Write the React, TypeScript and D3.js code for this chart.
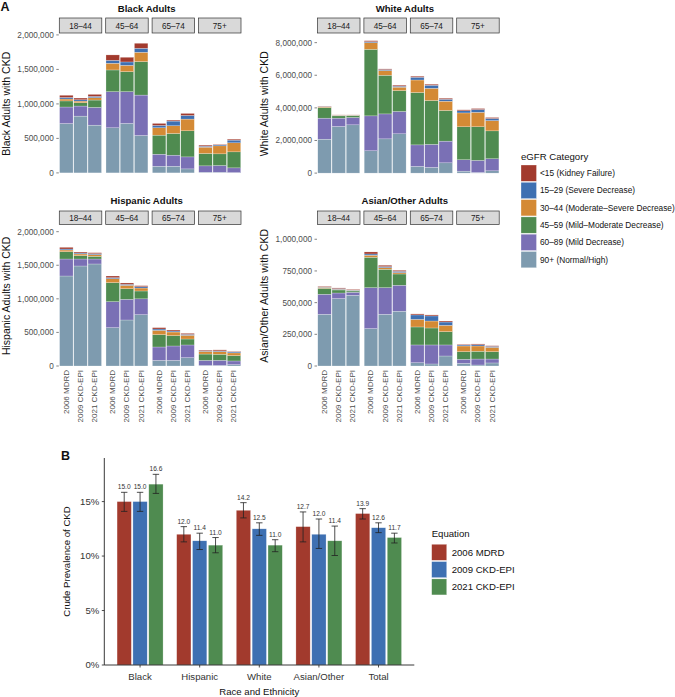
import React from "react";
import * as d3 from "d3";

const FONT = "'Liberation Sans', Arial, Helvetica, sans-serif";

const ageGroups = ["18–44", "45–64", "65–74", "75+"];
const equations = ["2006 MDRD", "2009 CKD-EPI", "2021 CKD-EPI"];
// stacking order bottom -> top
const egfrCategories = [
  "90+ (Normal/High)",
  "60–89 (Mild Decrease)",
  "45–59 (Mild–Moderate Decrease)",
  "30–44 (Moderate–Severe Decrease)",
  "15–29 (Severe Decrease)",
  "<15 (Kidney Failure)",
];
const egfrColors = ["#7E9BAF", "#7A70B5", "#4F8B50", "#D48A35", "#3E70B2", "#A23A2D"];

// thousands of adults; rows = age group × equation, columns = egfrCategories
const blackAdults = [
  [715, 240, 88, 28, 22, 32],
  [823, 146, 48, 24, 19, 25],
  [692, 257, 107, 34, 19, 29],
  [654, 523, 315, 97, 43, 78],
  [717, 460, 290, 92, 49, 68],
  [542, 586, 485, 135, 58, 73],
  [97, 174, 276, 107, 34, 29],
  [97, 160, 314, 112, 68, 14],
  [58, 174, 378, 170, 53, 29],
  [10, 92, 179, 92, 14, 15],
  [10, 97, 169, 116, 15, 9],
  [5, 68, 232, 131, 39, 14],
];
const whiteAdults = [
  [2080, 1290, 650, 40, 20, 20],
  [2860, 510, 140, 40, 10, 10],
  [2960, 450, 120, 25, 8, 7],
  [1370, 2140, 4080, 410, 60, 60],
  [2100, 1530, 2370, 290, 60, 40],
  [2410, 1370, 1280, 210, 60, 60],
  [410, 1320, 3210, 770, 170, 60],
  [350, 1410, 2690, 750, 190, 60],
  [630, 1330, 1880, 570, 120, 60],
  [120, 700, 2020, 850, 130, 60],
  [40, 740, 2060, 890, 170, 60],
  [140, 740, 1710, 630, 130, 60],
];
const hispanicAdults = [
  [1340, 253, 109, 25, 15, 25],
  [1489, 104, 50, 25, 14, 15],
  [1519, 74, 40, 25, 14, 15],
  [571, 387, 283, 59, 15, 25],
  [685, 308, 158, 50, 15, 20],
  [764, 236, 117, 44, 20, 15],
  [84, 199, 184, 64, 20, 20],
  [84, 214, 154, 54, 15, 15],
  [124, 189, 89, 55, 14, 15],
  [10, 74, 94, 40, 10, 10],
  [10, 75, 90, 40, 10, 15],
  [20, 55, 80, 40, 15, 8],
];
const asianOtherAdults = [
  [408, 158, 47, 8, 3, 5],
  [532, 44, 24, 5, 6, 5],
  [558, 24, 10, 5, 3, 5],
  [295, 323, 240, 16, 10, 16],
  [408, 210, 145, 13, 8, 11],
  [432, 205, 89, 11, 10, 8],
  [26, 140, 142, 60, 35, 8],
  [16, 150, 134, 55, 40, 8],
  [79, 87, 105, 50, 26, 8],
  [21, 32, 60, 45, 8, 5],
  [8, 47, 61, 42, 10, 6],
  [24, 31, 58, 34, 8, 5],
];

// Panel B
const raceGroups = ["Black", "Hispanic", "White", "Asian/Other", "Total"];
const eqColors = ["#A23A2D", "#3E70B2", "#4F8B50"];
const prevMDRD = [15.0, 12.0, 14.2, 12.7, 13.9];
const prevEPI2009 = [15.0, 11.4, 12.5, 12.0, 12.6];
const prevEPI2021 = [16.6, 11.0, 11.0, 11.4, 11.7];
const lowMDRD = [14.1, 11.3, 13.5, 11.3, 13.4];
const highMDRD = [15.85, 12.7, 14.9, 14.05, 14.35];
const lowEPI2009 = [14.1, 10.6, 11.9, 10.7, 12.15];
const highEPI2009 = [15.85, 12.1, 13.05, 13.4, 13.05];
const lowEPI2021 = [15.75, 10.3, 10.4, 10.05, 11.2];
const highEPI2021 = [17.5, 11.7, 11.5, 12.75, 12.1];
const bTicks = [0, 5, 10, 15];

const panelCfgs = [
  { title: "Black Adults", ylab: "Black Adults with CKD", data: blackAdults, x0: 59.3, top: 34.5, bottom: 172.9, yMax: 2006000, step: 500000, titleY: 12, stripTop: 18, stripBottom: 33, showX: false, ylabX: 5.5 },
  { title: "White Adults", ylab: "White Adults with CKD", data: whiteAdults, x0: 317.5, top: 34.5, bottom: 173.1, yMax: 8500000, step: 2000000, titleY: 12, stripTop: 18, stripBottom: 33, showX: false, ylabX: 263.5 },
  { title: "Hispanic Adults", ylab: "Hispanic Adults with CKD", data: hispanicAdults, x0: 59.3, top: 225.7, bottom: 366, yMax: 2089000, step: 500000, titleY: 203.5, stripTop: 211, stripBottom: 224.5, showX: true, ylabX: 5.5 },
  { title: "Asian/Other Adults", ylab: "Asian/Other Adults with CKD", data: asianOtherAdults, x0: 317.5, top: 225.7, bottom: 366, yMax: 1107000, step: 250000, titleY: 203.5, stripTop: 211, stripBottom: 224.5, showX: true, ylabX: 263.5 },
];

function StackPanel({ cfg }: { cfg: any }) {
  const { data, x0, top, bottom, yMax, step, title, ylab, titleY, stripTop, stripBottom, showX, ylabX } = cfg;
  const y = d3.scaleLinear().domain([0, yMax]).range([bottom, top]);
  const fx = d3.scaleBand().domain(ageGroups).range([x0, x0 + 181.7]).paddingInner(0.084);
  const bx = d3.scaleBand().domain(equations).range([0, fx.bandwidth()]).paddingInner(0.05).paddingOuter(0.02);
  const rows = data.map((v: number[], i: number) => ({ age: ageGroups[Math.floor(i / 3)], eq: equations[i % 3], v }));
  const series = d3
    .stack<any>()
    .keys(egfrCategories)
    .value((d: any, k: string) => d.v[egfrCategories.indexOf(k)] * 1000)(rows);
  const ticks = d3.range(0, yMax + 1, step);
  const fmt = d3.format(",");
  const center = x0 + 181.7 / 2;
  return (
    <g>
      <text x={center - 3.5} y={titleY} textAnchor="middle" fontSize={9.6} fontWeight="bold" fill="#111">{title}</text>
      {ageGroups.map((a) => (
        <g key={a}>
          <rect x={fx(a)} y={stripTop} width={fx.bandwidth()} height={stripBottom - stripTop} fill="#D9D9D9" stroke="#333" strokeWidth={0.7} />
          <text x={(fx(a) as number) + fx.bandwidth() / 2} y={(stripTop + stripBottom) / 2 + 3} textAnchor="middle" fontSize={8.2} fill="#1a1a1a">{a}</text>
        </g>
      ))}
      {series.map((s: any, si: number) => (
        <g key={si} fill={egfrColors[si]}>
          {s.map((d: any, i: number) => {
            const xx = (fx(d.data.age) as number) + (bx(d.data.eq) as number);
            return (
              <rect key={i} x={xx} y={y(d[1])} width={bx.bandwidth()} height={Math.max(0, y(d[0]) - y(d[1]))} stroke="#fff" strokeWidth={0.4} strokeOpacity={0.6} />
            );
          })}
        </g>
      ))}
      {ticks.map((t: number) => (
        <g key={t}>
          <line x1={x0 - 3} x2={x0 - 0.5} y1={y(t)} y2={y(t)} stroke="#333" strokeWidth={0.6} />
          <text x={x0 - 5.5} y={y(t) + 2.9} textAnchor="end" fontSize={8.2} fill="#4d4d4d">{fmt(t)}</text>
        </g>
      ))}
      <text transform={`translate(${ylabX},${(top + bottom) / 2}) rotate(-90)`} textAnchor="middle" dominantBaseline="central" fontSize={10.5} fill="#111">{ylab}</text>
      {showX &&
        rows.map((r: any, i: number) => {
          const cx = (fx(r.age) as number) + (bx(r.eq) as number) + bx.bandwidth() / 2;
          return (
            <text key={i} transform={`translate(${cx},${bottom + 4}) rotate(-90)`} textAnchor="end" dominantBaseline="central" fontSize={8} fill="#4d4d4d">{r.eq}</text>
          );
        })}
    </g>
  );
}

function PanelB() {
  const left = 104.3, right = 414.3, top = 458, bottom = 665;
  const x = d3.scalePoint().domain(raceGroups).range([left, right]).padding(0.6);
  const inner = d3.scaleBand().domain(equations).range([-23, 23]).paddingInner(0.1);
  const y = d3.scaleLinear().domain([0, 19]).range([bottom, top]);
  const vals = [prevMDRD, prevEPI2009, prevEPI2021];
  const lows = [lowMDRD, lowEPI2009, lowEPI2021];
  const highs = [highMDRD, highEPI2009, highEPI2021];
  return (
    <g>
      <text x={61} y={460} fontSize={12.5} fontWeight="bold" fill="#111">B</text>
      {raceGroups.map((g, gi) => (
        <g key={g}>
          {equations.map((e, ei) => {
            const bxl = (x(g) as number) + (inner(e) as number);
            const cx = bxl + inner.bandwidth() / 2;
            const v = vals[ei][gi];
            return (
              <g key={e}>
                <rect x={bxl} y={y(v)} width={inner.bandwidth()} height={y(0) - y(v)} fill={eqColors[ei]} stroke="#fff" strokeWidth={0.5} strokeOpacity={0.5} />
                <line x1={cx} x2={cx} y1={y(lows[ei][gi])} y2={y(highs[ei][gi])} stroke="#222" strokeWidth={0.8} />
                <line x1={cx - 3.2} x2={cx + 3.2} y1={y(lows[ei][gi])} y2={y(lows[ei][gi])} stroke="#222" strokeWidth={0.8} />
                <line x1={cx - 3.2} x2={cx + 3.2} y1={y(highs[ei][gi])} y2={y(highs[ei][gi])} stroke="#222" strokeWidth={0.8} />
                <text x={cx} y={y(highs[ei][gi]) - 3} textAnchor="middle" fontSize={6.6} fill="#333">{v.toFixed(1)}</text>
              </g>
            );
          })}
        </g>
      ))}
      <line x1={left} x2={left} y1={top} y2={bottom} stroke="#222" strokeWidth={0.9} />
      <line x1={left} x2={right} y1={bottom} y2={bottom} stroke="#222" strokeWidth={0.9} />
      {bTicks.map((t) => (
        <g key={t}>
          <line x1={left - 2.5} x2={left} y1={y(t)} y2={y(t)} stroke="#222" strokeWidth={0.8} />
          <text x={left - 5} y={y(t) + 3.4} textAnchor="end" fontSize={9.6} fill="#333">{t}%</text>
        </g>
      ))}
      {raceGroups.map((g) => (
        <g key={g}>
          <line x1={x(g)} x2={x(g)} y1={bottom} y2={bottom + 2.5} stroke="#222" strokeWidth={0.8} />
          <text x={x(g)} y={680} textAnchor="middle" fontSize={9.6} fill="#333">{g}</text>
        </g>
      ))}
      <text x={(left + right) / 2} y={695} textAnchor="middle" fontSize={9.6} fill="#111">Race and Ethnicity</text>
      <text transform={`translate(66.7,${(top + bottom) / 2}) rotate(-90)`} textAnchor="middle" dominantBaseline="central" fontSize={9.6} fill="#111">Crude Prevalence of CKD</text>
      <text x={431.7} y={537.4} fontSize={9.6} fill="#111">Equation</text>
      {equations.map((e, i) => (
        <g key={e}>
          <rect x={431.7} y={544.3 + i * 17.3} width={15} height={16} fill={eqColors[i]} stroke="#fff" strokeWidth={0.5} strokeOpacity={0.5} />
          <text x={451.7} y={544.3 + i * 17.3 + 8 + 3.4} fontSize={9.6} fill="#111">{e}</text>
        </g>
      ))}
    </g>
  );
}

function LegendA() {
  const order = [5, 4, 3, 2, 1, 0];
  return (
    <g>
      <text x={521} y={160} fontSize={9.6} fill="#111">eGFR Category</text>
      {order.map((ci, i) => (
        <g key={ci}>
          <rect x={521} y={165 + i * 17.3} width={15.5} height={16.3} fill={egfrColors[ci]} stroke="#fff" strokeWidth={0.5} strokeOpacity={0.6} />
          <text x={540} y={165 + i * 17.3 + 8.15 + 3} fontSize={8.3} fill="#111">{egfrCategories[ci]}</text>
        </g>
      ))}
    </g>
  );
}

export default function App() {
  return (
    <svg width={675} height={697} style={{ position: "absolute", left: 0, top: 0, background: "#fff" }} fontFamily={FONT}>
      <rect width={675} height={697} fill="#fff" />
      <text x={0.5} y={10.5} fontSize={12.5} fontWeight="bold" fill="#111">A</text>
      {panelCfgs.map((c) => (
        <StackPanel key={c.title} cfg={c} />
      ))}
      <LegendA />
      <PanelB />
    </svg>
  );
}
